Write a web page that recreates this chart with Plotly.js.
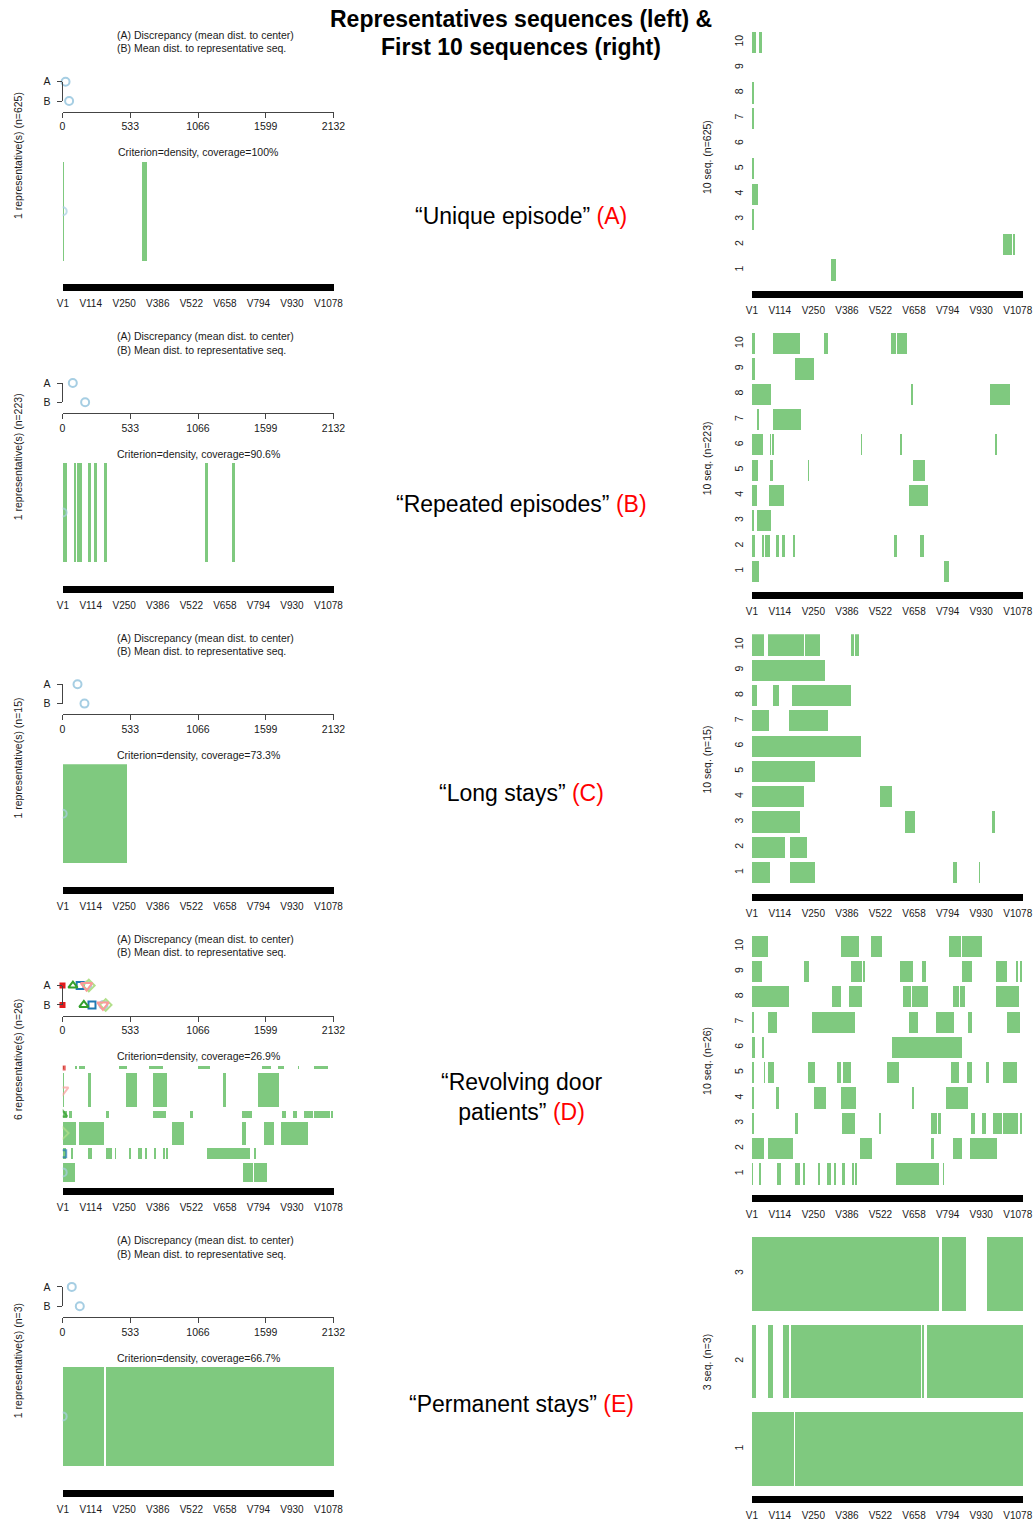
<!DOCTYPE html>
<html><head><meta charset="utf-8">
<script src="https://cdn.plot.ly/plotly-3.0.1.min.js"></script>
<style>html,body{margin:0;padding:0;background:#fff}#chart{width:1035px;height:1524px}</style>
</head><body><div id="chart"></div>
<script>
// ================= DATA =================
const seqLength = 1100;
const posTickVals = [1, 114, 250, 386, 522, 658, 794, 930, 1078];
const posTickText = ['V1','V114','V250','V386','V522','V658','V794','V930','V1078'];
const discTicks = [0, 533, 1066, 1599, 2132];

const groupNames = ['“Unique episode”', '“Repeated episodes”', '“Long stays”', '“Revolving door<br>patients”', '“Permanent stays”'];
const groupLetters = ['(A)', '(B)', '(C)', '(D)', '(E)'];
const groupN = [625, 223, 15, 26, 3];
const coverage = ['100%', '90.6%', '73.3%', '26.9%', '66.7%'];

// (A) discrepancy (mean dist. to center) and (B) mean dist. to representative, per representative
const discrepancyA = [[24], [81], [118], [195, 139, 207, 82, 189, 0], [73]];
const meanDistB    = [[52], [178], [173], [322, 232, 340, 168, 318, 0], [136]];
// number of sequences attached to each representative (bar thickness)
const repCounts = [[625], [223], [15], [5, 3, 6, 2, 9, 1], [3]];

// representative sequences: spells [start, end] of the green state
const repA = [[[0,4],[323,341]]];
const repB = [[[0,16],[46,54],[59,78],[101,115],[126,139],[167,178],[578,589],[685,700]]];
const repC = [[[0,261]]];
const repD = [
  [[0,49],[730,771],[775,827]],
  [[0,12],[32,41],[101,118],[176,199],[212,218],[270,278],[305,320],[332,342],[369,378],[407,416],[417,426],[585,759],[775,784]],
  [[0,53],[68,168],[442,492],[728,742],[817,858],[885,993]],
  [[0,16],[27,36],[176,188],[365,417],[516,527],[728,769],[889,905],[932,950],[977,1013],[1017,1083],[1088,1097]],
  [[0,7],[101,115],[258,301],[365,423],[648,662],[792,878]],
  [[0,5],[51,59],[65,92],[228,262],[350,405],[550,597],[809,843],[874,896],[952,959],[1020,1074]]
];
const repE = [[[0,169],[176,1100]]];

// first 10 sequences (index 0 = seq 1)
const firstA = [
  [[0,2],[320,340]],
  [[0,2],[1019,1054],[1057,1066]],
  [[0,8]],
  [[0,24]],
  [[0,8]],
  [],
  [[0,8]],
  [[0,9]],
  [[0,3]],
  [[0,16],[28,42]]
];
const firstB = [
  [[0,31],[778,800]],
  [[0,15],[42,51],[55,74],[99,111],[124,135],[168,174],[578,587],[682,698]],
  [[0,8],[22,78]],
  [[0,20],[69,131],[639,712]],
  [[0,24],[74,88],[228,232],[655,702]],
  [[0,45],[74,80],[82,89],[443,447],[599,607],[987,994]],
  [[0,3],[20,28],[88,201]],
  [[0,78],[645,652],[964,1046]],
  [[0,15],[174,254]],
  [[0,15],[88,194],[293,311],[566,584],[588,628]]
];
const firstC = [
  [[0,76],[154,258],[817,832],[920,924]],
  [[0,135],[154,224]],
  [[0,194],[622,663],[974,987]],
  [[0,211],[520,570]],
  [[0,258]],
  [[0,443]],
  [[0,72],[151,310]],
  [[0,22],[85,111],[162,402]],
  [[0,297]],
  [[0,51],[65,212],[215,277],[402,416],[420,433]]
];
const firstD = [
  [[0,5],[31,39],[103,117],[177,196],[207,216],[270,278],[306,320],[335,343],[367,378],[406,416],[417,427],[585,759],[775,779]],
  [[0,49],[65,167],[439,489],[725,737],[817,853],[884,994]],
  [[0,9],[177,188],[366,417],[514,525],[728,752],[756,768],[887,904],[934,950],[977,1012],[1016,1080],[1087,1096]],
  [[0,9],[100,112],[254,301],[363,421],[648,659],[787,877]],
  [[0,9],[51,55],[65,92],[230,258],[346,363],[369,404],[548,597],[807,841],[872,894],[949,960],[1019,1073]],
  [[0,15],[42,51],[568,851]],
  [[0,9],[65,101],[244,417],[636,675],[745,821],[876,894],[1034,1087]],
  [[0,142],[143,151],[327,363],[393,447],[614,645],[651,714],[817,839],[842,864],[990,1083]],
  [[0,42],[213,231],[402,447],[451,459],[599,652],[691,707],[850,894],[990,1033],[1069,1077],[1087,1096]],
  [[0,65],[363,433],[483,527],[801,847],[853,934]]
];
const firstE = [
  [[0,170],[177,1100]],
  [[0,18],[64,86],[128,153],[159,684],[688,697],[709,1100]],
  [[0,758],[770,869],[952,1100]]
];

// ================= STYLE / LAYOUT CONSTANTS =================
const W = 1035, H = 1524, ROW = 301.3;
const GREEN = '#7FC97F';
const repColors = ['#A6CEE3', '#1F78B4', '#B2DF8A', '#33A02C', '#FB9A99', '#E31A1C'];
const repSymbols = ['circle-open', 'square-open', 'diamond-open', 'triangle-up-open', 'triangle-down-open', 'square'];
const repSizes = [8, 7, 9, 8, 10, 4];
const centerLabelY = [216, 504, 793, 1096.5, 1404];
const FONT = 'Liberation Sans, Arial, sans-serif';
const TXT = '#1a1a1a';

const fx = p => p / W, fy = p => 1 - p / H;
const axId = k => (k === 1 ? '' : String(k));

const traces = [];
const layout = {
  width: W, height: H, margin: {l: 0, r: 0, t: 0, b: 0},
  paper_bgcolor: '#fff', plot_bgcolor: 'rgba(0,0,0,0)',
  showlegend: false, barmode: 'overlay', bargap: 0,
  font: {family: FONT, size: 10.5, color: TXT},
  annotations: []
};
function ann(x, y, text, extra) {
  return Object.assign({xref: 'paper', yref: 'paper', x: fx(x), y: fy(y), text: text, showarrow: false,
    xanchor: 'center', yanchor: 'middle', font: {family: FONT, size: 10.5, color: TXT}}, extra || {});
}
function spellTrace(seqs, centers, widths, xa, ya) {
  const y = [], base = [], len = [], w = [];
  seqs.forEach((spells, i) => spells.forEach(s => {
    y.push(centers[i]); base.push(s[0]); len.push(s[1] - s[0]); w.push(widths[i]);
  }));
  return {type: 'bar', orientation: 'h', y: y, x: len, base: base, width: w,
    marker: {color: GREEN, line: {width: 0}}, xaxis: xa, yaxis: ya, hoverinfo: 'skip', showlegend: false};
}
function posAxis(x0, x1, anchor) {
  return {domain: [fx(x0), fx(x1)], range: [0, seqLength], anchor: anchor,
    tickvals: posTickVals.map(v => v - 0.5), ticktext: posTickText, ticks: '',
    showline: true, linecolor: '#000', linewidth: 7, showgrid: false, zeroline: false,
    tickfont: {size: 10, color: TXT}, ticklabelstandoff: 4, fixedrange: true};
}

const firstTen = [firstA, firstB, firstC, firstD, firstE];
const reps = [repA, repB, repC, repD, repE];

for (let r = 0; r < 5; r++) {
  const o = r * ROW;
  const kd = 3 * r + 1, kr = 3 * r + 2, ks = 3 * r + 3;
  const nRep = repCounts[r].length;
  const single = nRep === 1;

  // ---- discrepancy panel ----
  layout['xaxis' + axId(kd)] = {domain: [fx(62.5), fx(333.5)], range: [0, 2132], anchor: 'free',
    position: fy(111.7 + o), tickvals: discTicks, ticks: 'outside', ticklen: 5, tickcolor: '#444',
    showline: true, linecolor: '#444', linewidth: 1, showgrid: false, zeroline: false,
    tickfont: {size: 10.5, color: TXT}, fixedrange: true};
  layout['yaxis' + axId(kd)] = {domain: [fy(101 + o), fy(81.7 + o)], range: [0, 1], anchor: 'x' + axId(kd),
    tickvals: [0, 1], ticktext: ['B', 'A'], ticks: 'outside', ticklen: 5, tickcolor: '#444',
    showline: true, linecolor: '#444', linewidth: 1, showgrid: false, zeroline: false,
    tickfont: {size: 10.5, color: TXT}, ticklabelstandoff: 4, fixedrange: true};
  for (let i = 0; i < nRep; i++) {
    const c = single ? repColors[0] : repColors[i];
    const sym = single ? repSymbols[0] : repSymbols[i];
    const sz = single ? 8 : repSizes[i];
    traces.push({type: 'scatter', mode: 'markers', x: [discrepancyA[r][i], meanDistB[r][i]], y: [1, 0],
      marker: {symbol: sym, color: c, size: sz, line: {color: c, width: 2}}, cliponaxis: false,
      xaxis: 'x' + axId(kd), yaxis: 'y' + axId(kd), hoverinfo: 'skip', showlegend: false});
  }

  // ---- representative sequences panel ----
  const total = repCounts[r].reduce((a, b) => a + b, 0);
  const gap = 0.035;
  let y0 = 0; const centers = [], heights = [];
  repCounts[r].forEach(c => { const h = c / total; centers.push(y0 + h / 2); heights.push(h); y0 += h + gap; });
  const top = y0 - gap;
  const span = (284.3 - 161.7) / 99;
  layout['xaxis' + axId(kr)] = posAxis(62.7, 334, 'y' + axId(kr));
  layout['yaxis' + axId(kr)] = {domain: [fy(284.3 + o), fy(161.7 + o)], range: [top - span, top],
    anchor: 'x' + axId(kr), showticklabels: false, showline: false, ticks: '', showgrid: false, zeroline: false, fixedrange: true};
  traces.push(spellTrace(reps[r], centers, heights, 'x' + axId(kr), 'y' + axId(kr)));
  traces.push({type: 'scatter', mode: 'markers', x: centers.map(() => 0), y: centers,
    marker: {symbol: single ? [repSymbols[0]] : repSymbols.slice(0, nRep),
             color: single ? [repColors[0]] : repColors.slice(0, nRep),
             size: single ? [8] : repSizes.slice(0, nRep),
             line: {color: single ? [repColors[0]] : repColors.slice(0, nRep), width: 2}},
    cliponaxis: true, xaxis: 'x' + axId(kr), yaxis: 'y' + axId(kr), hoverinfo: 'skip', showlegend: false});

  // ---- first sequences panel ----
  const seqs = firstTen[r];
  const N = seqs.length;
  const w = 0.84;
  const scale = (280.7 - 31.7) / (N - 1 + w);
  const yTop = N + w / 2;
  const yBot = yTop - (291 - 31.7) / scale;
  const idx = seqs.map((_, i) => i + 1);
  layout['xaxis' + axId(ks)] = posAxis(751.7, 1023.3, 'y' + axId(ks));
  layout['yaxis' + axId(ks)] = {domain: [fy(291 + o), fy(31.7 + o)], range: [yBot, yTop], anchor: 'x' + axId(ks),
    tickvals: idx, ticktext: idx.map(String), tickangle: -90, ticks: '', showline: false, showgrid: false,
    zeroline: false, tickfont: {size: 10.5, color: TXT}, ticklabelstandoff: 6, fixedrange: true};
  traces.push(spellTrace(seqs, idx, idx.map(() => w), 'x' + axId(ks), 'y' + axId(ks)));

  // ---- texts ----
  layout.annotations.push(ann(115, 35 + o, '(A) Discrepancy (mean dist. to center)', {xanchor: 'left'}));
  layout.annotations.push(ann(115, 48.3 + o, '(B) Mean dist. to representative seq.', {xanchor: 'left'}));
  layout.annotations.push(ann(198, 152.3 + o, 'Criterion=density, coverage=' + coverage[r]));
  layout.annotations.push(ann(18, 156 + o, nRep + ' representative(s) (n=' + groupN[r] + ')', {textangle: -90}));
  layout.annotations.push(ann(707, 157 + o, N + ' seq. (n=' + groupN[r] + ')', {textangle: -90}));
  layout.annotations.push(ann(521, centerLabelY[r], groupNames[r] + ' <span style="color:#ff0000">' + groupLetters[r] + '</span>',
    {font: {family: FONT, size: 23, color: '#000'}}));
}

layout.annotations.push(ann(521, 19, '<b>Representatives sequences (left) &amp;</b>', {font: {family: FONT, size: 23, color: '#000'}}));
layout.annotations.push(ann(521, 47, '<b>First 10 sequences (right)</b>', {font: {family: FONT, size: 23, color: '#000'}}));

Plotly.newPlot('chart', traces, layout, {staticPlot: true, displayModeBar: false});
</script>
</body></html>
